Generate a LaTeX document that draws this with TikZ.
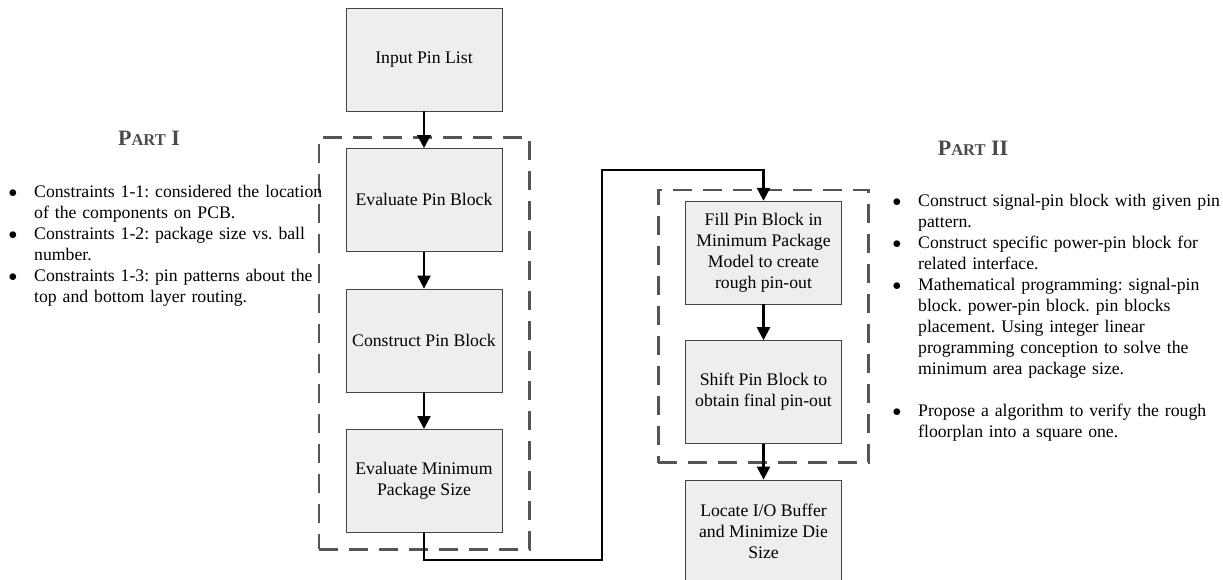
\documentclass[tikz,border=0pt]{standalone}
\usepackage{fontspec}
\setmainfont{Liberation Serif}
\usepackage{enumitem}
\usetikzlibrary{arrows.meta,positioning,fit,calc}
\definecolor{boxfill}{HTML}{EEEEEE}
\definecolor{boxline}{HTML}{444444}
\definecolor{dashgray}{HTML}{555555}
\definecolor{headgray}{HTML}{4A4A4A}
\newcommand{\parthead}[1]{\textbf{\fontsize{22}{26}\selectfont P\fontsize{16.5}{20}\selectfont ART\fontsize{22}{26}\selectfont\ #1}}
\newlist{notelist}{itemize}{1}
\setlist[notelist]{label=$\bullet$,leftmargin=24pt,labelsep=17pt,itemsep=0pt,topsep=0pt,parsep=0pt,partopsep=0pt}
\frenchspacing
\begin{document}
\begin{tikzpicture}
[x=1pt,y=-1pt,
node distance=37pt,
font=\fontsize{17.7}{21}\selectfont,
pbox/.style={draw=boxline,fill=boxfill,minimum width=156pt,minimum height=103pt,align=center,inner sep=2pt},
flow/.style={line width=2.2pt,-{Triangle[length=13pt,width=13pt]}},
group/.style={draw=dashgray,line width=2.6pt,dash pattern=on 19pt off 11pt,inner sep=0pt},
notes/.style={text width=340pt,anchor=north west,inner sep=0pt}]
\useasboundingbox (0,0) rectangle (1223,579);
%%
%%%%%%%%%%%%%%%%%%
% Part I
%%%%%%%%%%%%%%%%%%
\node[pbox] (input) at (424,59.5) {Input Pin List};
\node[pbox,below=of input] (evalblk) {Evaluate Pin Block};
\node[pbox,below=of evalblk] (consblk) {Construct Pin Block};
\node[pbox,below=of consblk] (emps) {Evaluate Minimum\\ Package Size};
%%
\node[group,fit=(evalblk)(emps),inner xsep=27pt,inner ysep=14pt,yshift=-3pt] (part1) {};
%%
\node[text=headgray] (head1) at (149,138) {\parthead{I}};
\node[notes] (notes1) at (10,176) {\raggedright
\begin{notelist}
\item Constraints 1-1: considered the location\\ of the components on PCB.
\item Constraints 1-2: package size vs. ball\\ number.
\item Constraints 1-3: pin patterns about the\\ top and bottom layer routing.
\end{notelist}};
%%
%%%%%%%%%%%%%%%%%%
% Part II
%%%%%%%%%%%%%%%%%%
\begin{scope}[node distance=36pt]
\node[pbox] (fillblk) at (763.5,252.5) {Fill Pin Block in\\ Minimum Package\\ Model to create\\ rough pin-out};
\node[pbox,below=of fillblk] (shiftblk) {Shift Pin Block to\\ obtain final pin-out};
\node[pbox,below=of shiftblk] (locate) {Locate I/O Buffer\\ and Minimize Die\\ Size};
%%
\node[group,fit=(fillblk)(shiftblk),inner xsep=27pt,inner ysep=15pt,yshift=-4pt] (part2) {};
\end{scope}
%%
\node[text=headgray] (head2) at (973,148) {\parthead{II}};
\node[notes] (notes2) at (894,185) {\raggedright
\begin{notelist}
\item Construct signal-pin block with given pin\\ pattern.
\item Construct specific power-pin block for\\ related interface.
\item Mathematical programming: signal-pin\\ block. power-pin block. pin blocks\\ placement. Using integer linear\\ programming conception to solve the\\ minimum area package size.\par\vspace{21pt}
\item Propose a algorithm to verify the rough\\ floorplan into a square one.
\end{notelist}};
%%
%%%%%%%%%%%%%%%%%%
% Connectors
%%%%%%%%%%%%%%%%%%
\draw[flow] (input) -- (evalblk);
\draw[flow] (evalblk) -- (consblk);
\draw[flow] (consblk) -- (emps);
\coordinate (low) at (602,560);
\coordinate (high) at (602,170);
\draw[flow] (emps) |- (low) -- (high) -| (fillblk);
\draw[flow] (fillblk) -- (shiftblk);
\draw[flow] (shiftblk) -- (locate);
\end{tikzpicture}
\end{document}
